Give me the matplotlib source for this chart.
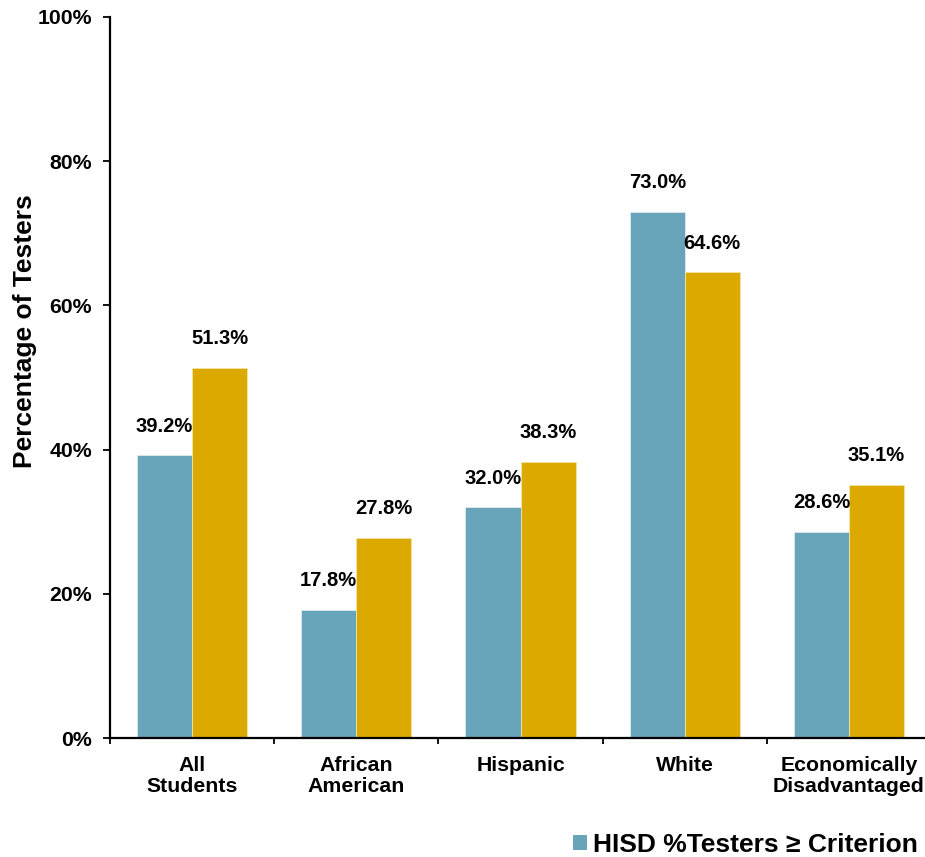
import numpy as np
import matplotlib
import matplotlib.pyplot as plt
from matplotlib.patches import Patch
from matplotlib.ticker import FixedLocator, PercentFormatter

matplotlib.use("Agg")

plt.rcParams["font.family"] = ["Liberation Sans", "DejaVu Sans"]
plt.rcParams["font.weight"] = "bold"

# data
groups = ["All\nStudents", "African\nAmerican", "Hispanic", "White", "Economically\nDisadvantaged"]
hisd = [39.2, 17.8, 32.0, 73.0, 28.6]
other = [51.3, 27.8, 38.3, 64.6, 35.1]
legend_label = "HISD %Testers \u2265 Criterion"

blue = "#68A4BA"
gold = "#DCA900"

fig = plt.figure(figsize=(9.25, 8.57), dpi=100)
ax = fig.add_axes([110 / 925, 119 / 857, 821 / 925, 721 / 857])

x = np.arange(len(groups)) + 0.5
w = 0.335
b1 = ax.bar(x - w / 2, hisd, w, color=blue, edgecolor="#DDEBF0", linewidth=0.6)
b2 = ax.bar(x + w / 2, other, w, color=gold, edgecolor="#F3E3A8", linewidth=0.6)

# value labels above each bar
for bars, vals in ((b1, hisd), (b2, other)):
    for r, v in zip(bars, vals):
        ax.annotate(f"{v:.1f}%", (r.get_x() + r.get_width() / 2, v),
                    xytext=(0, 21), textcoords="offset points",
                    ha="center", va="center", fontsize=14.5, fontweight="bold")

ax.set_xlim(0, len(groups))
ax.set_ylim(0, 100)
ax.yaxis.set_major_locator(FixedLocator([0, 20, 40, 60, 80, 100]))
ax.yaxis.set_major_formatter(PercentFormatter(decimals=0))
ax.set_xticks(x)
ax.set_xticklabels(groups, fontsize=15.3, fontweight="bold", linespacing=1.15)
ax.xaxis.set_minor_locator(FixedLocator(np.arange(len(groups) + 1)))
ax.tick_params(axis="x", which="major", length=0, pad=13)
ax.tick_params(axis="x", which="minor", length=4, width=1.3, direction="out")
ax.tick_params(axis="y", length=5, width=1.3, direction="out", pad=8, labelsize=15.3)
for lab in ax.get_yticklabels():
    lab.set_fontweight("bold")

for s in ("top", "right"):
    ax.spines[s].set_visible(False)
for s in ("left", "bottom"):
    ax.spines[s].set_linewidth(1.6)

ax.set_ylabel("Percentage of Testers", fontsize=19, fontweight="bold")
ax.yaxis.set_label_coords(-0.089, (738 - 331) / 721)

fig.legend(handles=[Patch(facecolor=blue, label=legend_label)],
           loc="lower left", bbox_to_anchor=(573 / 925, 0.0), frameon=False,
           fontsize=19, handlelength=0.53, handleheight=0.53, handletextpad=0.22,
           borderaxespad=0, borderpad=0)

fig.savefig("out.png", dpi=100)
